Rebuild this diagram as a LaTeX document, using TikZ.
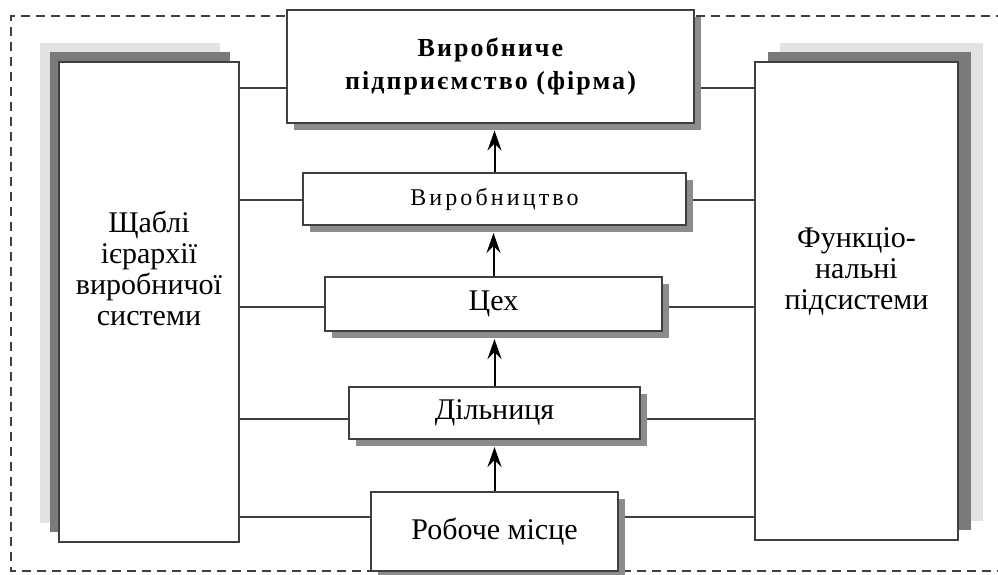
\documentclass[tikz,border=0pt]{standalone}
\usepackage{fontspec}
\setmainfont{Liberation Serif}
\newfontfamily\spacedfirm[LetterSpace=8]{Liberation Serif}
\newfontfamily\spacedprod[LetterSpace=13]{Liberation Serif}
\usepackage{xcolor}
\usepackage{tikz}
\usetikzlibrary{arrows.meta, shadows, backgrounds}

\definecolor{edge}{HTML}{3F3F3F}
\definecolor{shade}{HTML}{8C8C8C}
\definecolor{shadedark}{HTML}{7A7A7A}
\definecolor{shadelight}{HTML}{E2E2E2}

\begin{document}
\begin{tikzpicture}[
  x=1pt, y=-1pt,
  font=\fontsize{30}{31}\selectfont,
  box/.style={draw=edge, line width=2pt, fill=white, inner sep=0pt, align=center},
  stage/.style={box, drop shadow={shadow xshift=7pt, shadow yshift=-7pt,
                fill=shade, opacity=1}},
  conn/.style={draw=edge, line width=2pt},
  arr/.style={-{Stealth[length=20pt, width=14pt, inset=7pt]}, line width=2pt,
              shorten >=7pt},
  frame/.style={draw=edge, line width=2pt, dash pattern=on 9pt off 6pt}
]
\useasboundingbox (0,0) rectangle (998,574);
\draw[frame] (1005,16) -- (11,16) -- (11,571) -- (1005,571);

% side columns
\node[box, minimum width=180pt, minimum height=480pt,
  drop shadow={shadow xshift=-19pt, shadow yshift=19pt, fill=shadelight, opacity=1},
  drop shadow={shadow xshift=-9pt, shadow yshift=10pt, fill=shadedark, opacity=1}]
  (lvls) at (149,302) {};
\node[box, minimum width=203pt, minimum height=478pt,
  drop shadow={shadow xshift=25pt, shadow yshift=19pt, fill=shadelight, opacity=1},
  drop shadow={shadow xshift=13pt, shadow yshift=10pt, fill=shadedark, opacity=1}]
  (funcs) at (856.5,301) {};
\node[align=center] (lvlstxt) at (149,268) {Щаблі\\ієрархії\\виробничої\\системи};
\node[align=center] (funcstxt) at (856.5,271) {Функціо-\\нальні\\підсистеми};

% levels
\node[stage, minimum width=407pt, minimum height=113pt,
  font=\spacedfirm\bfseries\fontsize{26}{33}\selectfont]
  (firm) at (490.5,66) {Виробниче\\підприємство (фірма)};
\node[stage, minimum width=383pt, minimum height=52pt,
  font=\spacedprod\fontsize{24}{26}\selectfont]
  (prod) at (494.5,199) {Виробництво};
\node[stage, minimum width=337pt, minimum height=54pt] (shop) at (493.5,304) {Цех};
\node[stage, minimum width=291pt, minimum height=52pt] (sect) at (494.5,413) {Дільниця};
\node[stage, minimum width=247pt, minimum height=79pt] (work) at (494.5,531.5) {Робоче місце};

\draw[arr] (prod.north) -- (prod.north |- firm.south);
\draw[arr] (shop.north) -- (shop.north |- prod.south);
\draw[arr] (sect.north) -- (sect.north |- shop.south);
\draw[arr] (work.north) -- (work.north |- sect.south);

\begin{scope}[on background layer]
\foreach \n/\y in {firm/88, prod/200, shop/307, sect/419, work/517} {
  \draw[conn] (lvls.east |- 0,\y) -- (\n.west |- 0,\y);
  \draw[conn] (\n.east |- 0,\y) -- (funcs.west |- 0,\y);
}
\end{scope}
\end{tikzpicture}
\end{document}
